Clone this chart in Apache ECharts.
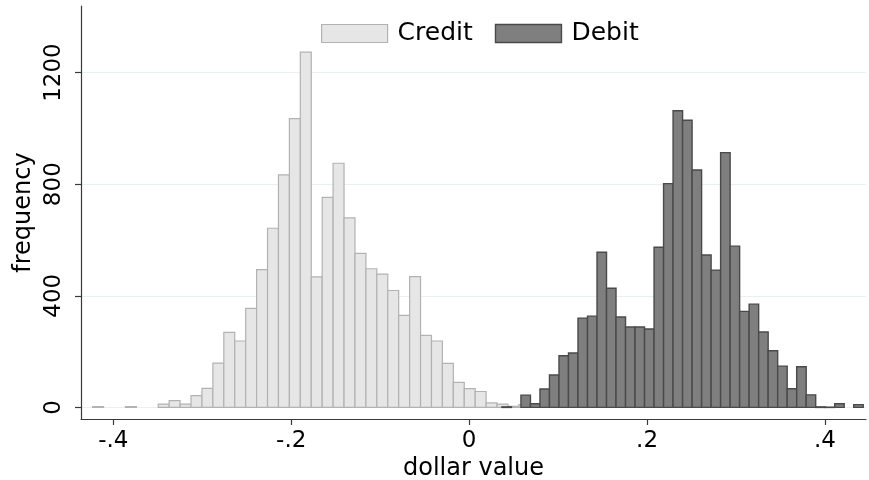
<!DOCTYPE html>
<html>
<head>
<meta charset="utf-8">
<script src="https://cdn.jsdelivr.net/npm/echarts@6/dist/echarts.min.js"></script>
<style>
html,body{margin:0;padding:0;background:#fff;}
#c{width:869px;height:480px;}
</style>
</head>
<body>
<div id="c"></div>
<script>
// ---- data ----
var seriesNames = ['Credit', 'Debit'];
var creditStart = -0.4232;
var creditWidth = 0.012286;
var creditCounts = [3, 0, 0, 3, 0, 0, 12, 24, 12, 42, 68, 159, 269, 238, 355, 494, 642, 833, 1035, 1273,
  468, 753, 875, 679, 552, 497, 478, 419, 330, 469, 258, 238, 158, 90, 67, 57, 16, 12, 4, 10];
var debitStart = 0.03685;
var debitWidth = 0.010688;
var debitCounts = [2, 0, 44, 13, 66, 116, 185, 195, 320, 327, 556, 427, 324, 288, 288, 281, 574, 802,
  1063, 1029, 851, 546, 492, 913, 578, 344, 370, 270, 203, 148, 67, 146, 45, 2, 1, 13, 0, 10];
var xTicks = [-0.4, -0.2, 0, 0.2, 0.4];
var xTickLabels = ['-.4', '-.2', '0', '.2', '.4'];
var yTicks = [0, 400, 800, 1200];
var yTickLabels = ['0', '400', '800', '1200'];

function bins(start, width, counts) {
  var out = [];
  for (var i = 0; i < counts.length; i++) {
    if (counts[i] > 0) out.push([start + i * width, start + (i + 1) * width, counts[i]]);
  }
  return out;
}
function pick(ticks, labels) {
  return function (v) {
    for (var i = 0; i < ticks.length; i++) if (Math.abs(ticks[i] - v) < 1e-9) return labels[i];
    return '';
  };
}

var FONT = 'DejaVu Sans';
var styles = {
  Credit: {fill: '#e6e6e6', stroke: '#b2b2b2', lw: 1.2},
  Debit: {fill: '#7f7f7f', stroke: '#4a4a4a', lw: 1.4}
};

function makeRender(name) {
  return function (params, api) {
    var p0 = api.coord([api.value(0), api.value(2)]);
    var p1 = api.coord([api.value(1), 0]);
    var s = styles[name];
    return {
      type: 'rect',
      shape: {x: p0[0], y: p0[1], width: p1[0] - p0[0], height: p1[1] - p0[1]},
      style: {fill: s.fill, stroke: s.stroke, lineWidth: s.lw}
    };
  };
}

var chart = echarts.init(document.getElementById('c'), null, {renderer: 'canvas'});
chart.setOption({
  animation: false,
  backgroundColor: '#ffffff',
  textStyle: {fontFamily: FONT},
  grid: {left: 81, right: 3, top: 6, bottom: 61, containLabel: false, outerBoundsMode: 'none'},
  legend: {
    top: 16,
    left: 316,
    itemWidth: 66,
    itemHeight: 18,
    itemGap: 22,
    textStyle: {fontFamily: FONT, fontSize: 25, color: '#000', padding: [0, 0, 0, 5]},
    data: [
      {name: 'Credit', icon: 'rect', itemStyle: {color: '#e6e6e6', borderColor: '#b2b2b2', borderWidth: 1.2}},
      {name: 'Debit', icon: 'rect', itemStyle: {color: '#7f7f7f', borderColor: '#4a4a4a', borderWidth: 1.4}}
    ]
  },
  xAxis: {
    type: 'value',
    min: -0.4363,
    max: 0.4461,
    name: 'dollar value',
    nameLocation: 'middle',
    nameGap: 38,
    nameMoveOverlap: false,
    nameTextStyle: {fontFamily: FONT, fontSize: 24, color: '#000'},
    axisLine: {show: true, onZero: false, lineStyle: {color: '#3a3a3a', width: 1.2}},
    axisTick: {show: true, length: 6, customValues: xTicks, lineStyle: {color: '#3a3a3a', width: 1.2}},
    axisLabel: {
      customValues: xTicks,
      margin: 11,
      fontFamily: FONT, fontSize: 23, color: '#000',
      formatter: pick(xTicks, xTickLabels)
    },
    splitLine: {show: false}
  },
  yAxis: {
    type: 'value',
    min: -41.5,
    max: 1438.5,
    name: 'frequency',
    nameLocation: 'middle',
    nameGap: 45,
    nameMoveOverlap: false,
    nameTextStyle: {fontFamily: FONT, fontSize: 24, color: '#000'},
    axisLine: {show: true, onZero: false, lineStyle: {color: '#3a3a3a', width: 1.2}},
    axisTick: {show: true, length: 6, customValues: yTicks, lineStyle: {color: '#3a3a3a', width: 1.2}},
    axisLabel: {
      customValues: yTicks,
      rotate: 90,
      margin: 15,
      fontFamily: FONT, fontSize: 23, color: '#000',
      formatter: pick(yTicks, yTickLabels)
    },
    splitLine: {show: true, lineStyle: {color: '#e9f0f2', width: 1.2}}
  },
  series: [
    {
      name: 'Credit', type: 'custom',
      itemStyle: {color: '#e6e6e6', borderColor: '#b2b2b2'},
      renderItem: makeRender('Credit'),
      encode: {x: [0, 1], y: 2},
      data: bins(creditStart, creditWidth, creditCounts)
    },
    {
      name: 'Debit', type: 'custom',
      itemStyle: {color: '#7f7f7f', borderColor: '#4a4a4a'},
      renderItem: makeRender('Debit'),
      encode: {x: [0, 1], y: 2},
      data: bins(debitStart, debitWidth, debitCounts)
    }
  ]
});
</script>
</body>
</html>
